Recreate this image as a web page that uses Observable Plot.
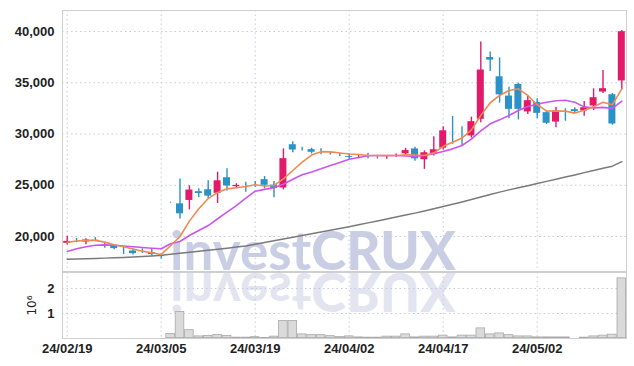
<!DOCTYPE html>
<html><head><meta charset="utf-8">
<script src="https://cdn.jsdelivr.net/npm/d3@7"></script>
<script src="https://cdn.jsdelivr.net/npm/@observablehq/plot@0.6"></script>
<style>
body{margin:0;background:#fff;}
#chart{width:634px;height:366px;position:relative;overflow:hidden;}
#chart svg{display:block;}
</style></head><body><div id="chart"></div>
<script>
// Trading days (YY/MM/DD)
const dates = ["24/02/19","24/02/20","24/02/21","24/02/22","24/02/23","24/02/26","24/02/27","24/02/28","24/02/29","24/03/04",
"24/03/05","24/03/06","24/03/07","24/03/08","24/03/11","24/03/12","24/03/13","24/03/14","24/03/15","24/03/18",
"24/03/19","24/03/20","24/03/21","24/03/22","24/03/25","24/03/26","24/03/27","24/03/28","24/03/29","24/04/01",
"24/04/02","24/04/03","24/04/04","24/04/05","24/04/08","24/04/09","24/04/11","24/04/12","24/04/15","24/04/16",
"24/04/17","24/04/18","24/04/19","24/04/22","24/04/23","24/04/24","24/04/25","24/04/26","24/04/29","24/04/30",
"24/05/02","24/05/03","24/05/07","24/05/08","24/05/09","24/05/10","24/05/13","24/05/14","24/05/16","24/05/17"];
const open  = [19220,19680,19350,19800,19250,19190,18760,18700,18660,18560,
18240,23350,23300,23400,24490,24680,24100,25850,24740,24800,
25140,25660,25140,24620,29070,28620,28590,28390,28230,28000,
27920,27650,27870,27740,27610,27740,27950,28660,27370,27900,
28500,30270,30080,29690,31320,37580,35700,33820,34960,32040,
33190,32200,31050,32360,32490,32130,32620,33980,33950,35060];
const high  = [20030,19800,19790,19900,19350,19200,19000,18780,18800,18780,
18300,23350,25600,24950,24650,25450,26270,26600,25150,25300,
25370,25850,25370,28550,29240,28700,28620,28550,28300,28100,
28070,27900,28130,27800,27850,28050,28610,28700,28350,29720,
30700,31700,30700,31640,38980,37990,37430,34550,34960,33760,
33430,32250,32620,32460,32550,33170,34410,36200,33950,40100];
const low   = [19180,19390,19190,19500,18850,18700,18240,18200,18350,18100,
17800,23250,21700,22600,23770,23700,23220,24450,24650,24320,
24810,24650,23770,24550,28170,28350,28050,27970,27950,27800,
27410,27580,27580,27560,27540,27700,27900,27350,26550,27850,
28450,29000,28850,29600,31100,36100,33010,31500,31380,31900,
31480,30930,30600,31250,32000,31740,32290,33950,30860,34310];
const close = [19640,19480,19775,19540,18950,18700,18600,18210,18500,18120,
17920,23250,22100,24650,24070,23820,25550,24810,25100,24590,
25000,24880,24560,27710,28320,28390,28100,28230,28070,27870,
27600,27830,27740,27610,27830,28000,28500,27460,28290,28580,
30430,30020,29850,31320,36360,37090,33700,32290,32290,33370,
31900,30930,32360,32130,32070,32680,33660,34540,30860,40100];
// Volume in millions of shares
const volume = [0,0,0,0,0,0,0,0,0,0,
0,0.2,1.08,0.35,0.1,0.12,0.16,0.12,0.05,0.05,
0.07,0.04,0.09,0.72,0.72,0.18,0.15,0.15,0.11,0.07,
0.1,0.06,0.05,0.05,0.09,0.09,0.18,0.06,0.09,0.09,
0.13,0.06,0.13,0.13,0.42,0.18,0.22,0.15,0.1,0.1,
0.06,0.06,0.06,0.06,0.03,0.05,0.1,0.13,0.17,2.42];
// Moving averages
const maShort = [19430,19560,19620,19620,19450,19200,19000,18780,18570,18420,
18250,19100,20000,21500,22700,23700,24300,24650,24760,24880,
25050,24930,24980,25630,26440,27250,27950,28280,28260,28150,
28050,28000,27900,27900,27890,27900,27960,27950,27900,28160,
28800,29200,29600,30400,31800,33050,33760,34240,34410,33760,
32850,32260,32230,32230,32040,32320,32650,33100,32860,34410];
const maMid = [18540,18800,19000,19150,19180,19150,19080,19000,18930,18860,
18800,19290,19510,20100,20590,21070,21730,22370,23020,23750,
24420,24600,24760,25100,25580,26030,26300,26600,26930,27220,
27530,27710,27880,27900,27900,27900,27850,27840,27900,28070,
28290,28550,28880,29500,30300,30990,31380,31800,32290,32680,
32900,33100,33250,33300,33100,32650,32550,32600,32500,33200];
const maLong = [17780,17800,17830,17860,17890,17920,17950,17990,18040,18100,
18170,18260,18360,18460,18560,18660,18760,18860,18970,19080,
19250,19420,19590,19760,19930,20100,20270,20440,20610,20780,
20950,21140,21330,21520,21710,21900,22090,22280,22480,22700,
22930,23150,23370,23600,23850,24100,24330,24550,24760,24960,
25170,25380,25590,25800,26010,26230,26440,26660,26860,27300];
const tickDates = ["24/02/19","24/03/05","24/03/19","24/04/02","24/04/17","24/05/02"];
const priceTicks = [20000,25000,30000,35000,40000];
const volTicks = [1,2];

const data = dates.map((d,i)=>({date:d, open:open[i], high:high[i], low:low[i], close:close[i],
  volume:volume[i], maShort:maShort[i], maMid:maMid[i], maLong:maLong[i]}));

const UP = "#e3196a", DOWN = "#2a92c6";
const FONT = "'Liberation Sans', Arial, sans-serif";
const GRID = {stroke:"#c5cade", strokeDasharray:"1.5,3", strokeWidth:1};
const col = d => d.close >= d.open ? UP : DOWN;
const fmt = d3.format(",d");

const main = Plot.plot({
  width:634, height:272, marginLeft:62, marginRight:8, marginTop:10, marginBottom:1,
  style:{fontFamily:FONT, fontSize:"13px", fontWeight:"bold", color:"#222", background:"transparent"},
  x:{type:"band", domain:dates, padding:0, round:false, axis:null},
  y:{domain:[16585,42050], axis:null},
  marks:[
    Plot.ruleY(priceTicks, GRID),
    Plot.ruleX(tickDates, GRID),
    Plot.ruleX(data, {x:"date", y1:"low", y2:"high", stroke:col, strokeWidth:1.4}),
    Plot.barY(data, {x:"date", y1:"open", y2:"close", fill:col, inset:1.2}),
    Plot.lineY(data, {x:"date", y:"maLong", stroke:"#7a7a7a", strokeWidth:1.5}),
    Plot.lineY(data, {x:"date", y:"maMid", stroke:"#cc55ee", strokeWidth:1.6}),
    Plot.lineY(data, {x:"date", y:"maShort", stroke:"#ef8a50", strokeWidth:1.6}),
    Plot.axisY(priceTicks, {tickSize:0, tickPadding:8, tickFormat:fmt, label:null}),
    Plot.frame({stroke:"#cfcfcf"})
  ]
});

const vol = Plot.plot({
  width:634, height:94, marginLeft:62, marginRight:8, marginTop:0, marginBottom:28,
  style:{fontFamily:FONT, fontSize:"13px", fontWeight:"bold", color:"#222", background:"transparent"},
  x:{type:"band", domain:dates, padding:0, round:false},
  y:{domain:[0,2.64]},
  marks:[
    Plot.ruleY(volTicks, GRID),
    Plot.ruleX(tickDates, GRID),
    Plot.barY(data, {x:"date", y:"volume", fill:"#dadada", stroke:"#a9a9a9", strokeWidth:0.8, inset:0.4}),
    Plot.axisY(volTicks, {tickSize:0, tickPadding:8, label:"10⁶", labelAnchor:"center", labelOffset:35, labelArrow:"none"}),
    Plot.axisX(tickDates, {tickSize:0, tickPadding:5, label:null}),
    Plot.frame({stroke:"#cfcfcf"})
  ]
});

function watermark(svg, flip){
  const t = d3.select(svg).insert("text", "g")
    .attr("x", 170).attr("y", flip ? -1 : 270)
    .attr("text-anchor", "start")
    .style("font-family", "Lato, 'Open Sans', sans-serif")
    .style("font-size", "53px")
    .style("fill", flip ? "#e2e5f0" : "#c9cee4");
  if (flip) t.attr("transform", "scale(1,-1)");
  t.append("tspan").style("font-weight", "700").text("invest");
  t.append("tspan").style("font-weight", "900").text("CRUX");
}
watermark(main, false);
watermark(vol, true);
d3.select(vol).selectAll("[aria-label='y-axis label'] text, [aria-label='y-axis label']")
  .style("font-family", "'DejaVu Sans',sans-serif").style("font-size", "12px").style("font-weight", "normal");

const box = document.getElementById("chart");
box.appendChild(main);
box.appendChild(vol);
</script></body></html>
